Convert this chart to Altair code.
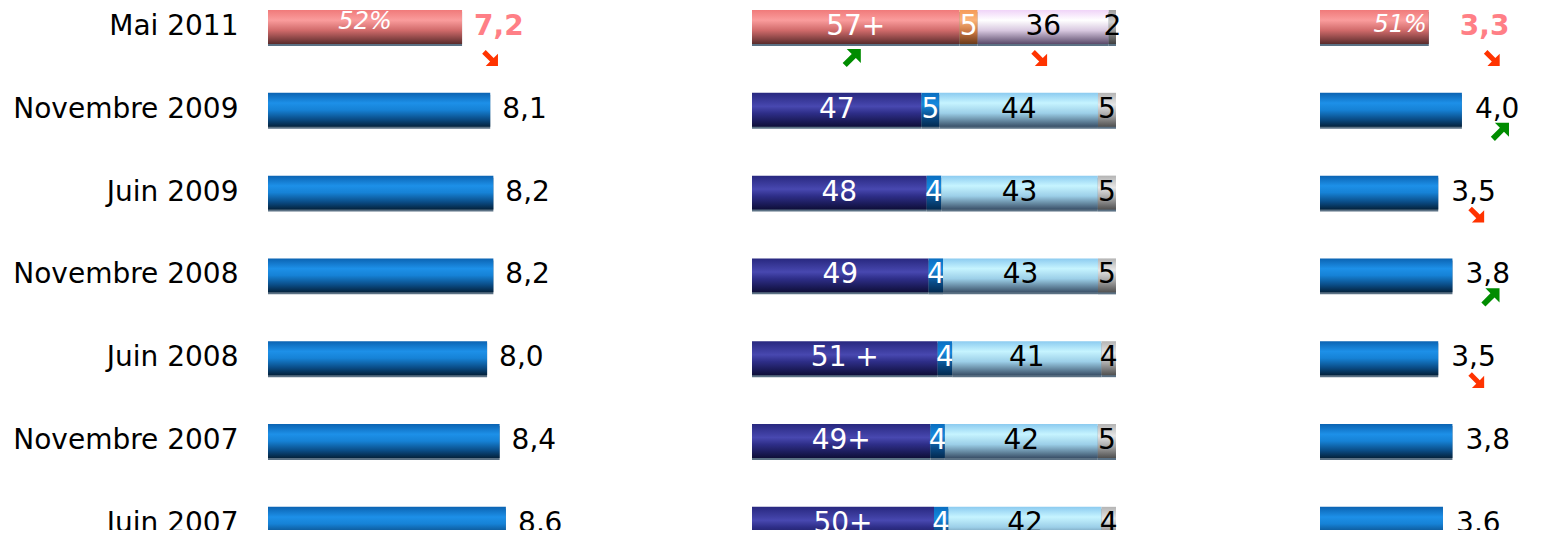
import altair as alt
import pandas as pd

# ---------------- data ----------------
periods = ["Mai 2011", "Novembre 2009", "Juin 2009", "Novembre 2008",
           "Juin 2008", "Novembre 2007", "Juin 2007"]
highlight = "Mai 2011"

# panel 1 : mean score (0-11)
notes = [7.2, 8.1, 8.2, 8.2, 8.0, 8.4, 8.6]
notes_trend = ["down", "", "", "", "", "", ""]
notes_pct = ["52%", "", "", "", "", "", ""]

# panel 2 : stacked shares
seg_oui = [57, 47, 48, 49, 51, 49, 50]
seg_oui_labels = ["57+", "47", "48", "49", "51 +", "49+", "50+"]
seg_plutot = [5, 5, 4, 4, 4, 4, 4]
seg_non = [36, 44, 43, 43, 41, 42, 42]
seg_nsp = [2, 5, 5, 5, 4, 5, 4]
seg_oui_trend = ["up", "", "", "", "", "", ""]
seg_non_trend = ["down", "", "", "", "", "", ""]

# panel 3 : total oui
total_oui = [3.3, 4.0, 3.5, 3.8, 3.5, 3.8, 3.6]
total_trend = ["down", "up", "down", "up", "down", "", ""]
total_pct = ["51%", "", "", "", "", "", ""]


def fmt(v):
    return f"{v:.1f}".replace(".", ",")


df1 = pd.DataFrame({"period": periods, "value": notes, "trend": notes_trend,
                    "pct": notes_pct, "label": [fmt(v) for v in notes]})
df3 = pd.DataFrame({"period": periods, "value": total_oui, "trend": total_trend,
                    "pct": total_pct, "label": [fmt(v) for v in total_oui]})

rows = []
for i, p in enumerate(periods):
    segs = [
        (seg_oui[i], seg_oui_labels[i], seg_oui_trend[i]),
        (seg_plutot[i], str(seg_plutot[i]), ""),
        (seg_non[i], str(seg_non[i]), seg_non_trend[i]),
        (seg_nsp[i], str(seg_nsp[i]), ""),
    ]
    for k, (v, lab, tr) in enumerate(segs):
        rows.append({"period": p, "seg": k, "value": v, "label": lab, "trend": tr})
df2 = pd.DataFrame(rows)

# ---------------- styles ----------------
FONT = "DejaVu Sans"
FS = 28


def grad(stops):
    return alt.Gradient(gradient="linear", x1=0, x2=0, y1=0, y2=1,
                        stops=[alt.GradientStop(offset=o, color=c) for o, c in stops])


BLUE = grad([(0, "#0b63b2"), (0.3, "#1d90e8"), (0.5, "#1682d6"), (0.78, "#0a4c86"), (1, "#04223c")])
NAVY = grad([(0, "#28287f"), (0.4, "#4848b0"), (0.6, "#2e2e88"), (1, "#0e0e38")])
MIDBLUE = grad([(0, "#0a6ec0"), (0.35, "#1689de"), (0.7, "#0a4c88"), (1, "#032a50")])
LIGHT = grad([(0, "#8ccbf0"), (0.3, "#c6f4ff"), (0.6, "#9ccfe8"), (1, "#3a5068")])
GRAY = grad([(0, "#b4b4b4"), (0.35, "#e6e6e6"), (0.65, "#a8a8a8"), (1, "#505050")])
PINK = grad([(0, "#f07a7a"), (0.3, "#fa9c9c"), (0.6, "#d06a6a"), (1, "#5a2c2c")])
ORANGE = grad([(0, "#f59a58"), (0.3, "#fbb47a"), (0.65, "#c87440"), (1, "#6a3a1a")])
LAVENDER = grad([(0, "#f0d4f8"), (0.3, "#ffffff"), (0.6, "#d8c8e0"), (1, "#5a4a6a")])
DGRAY = grad([(0, "#a0a0a0"), (0.35, "#d0d0d0"), (1, "#404040")])

SEG_COLORS = [NAVY, MIDBLUE, LIGHT, GRAY]
SEG_COLORS_HL = [PINK, ORANGE, LAVENDER, DGRAY]
SEG_TEXT = ["white", "white", "black", "black"]

SHADOW = "#5b7184"
HL_TEXT = "#ff7f86"
RED = "#ff3300"
GREEN = "#008c00"

DOWN_PATH = "M -1 -0.55 L -0.55 -1 L 0.45 0 L 1 -0.55 L 1 1 L -0.55 1 L 0 0.45 Z"
UP_PATH = "M -1 0.55 L -0.55 1 L 0.45 0 L 1 0.55 L 1 -1 L -0.55 -1 L 0 -0.45 Z"

# ---------------- scales ----------------
ys = alt.Scale(domain=periods, range=[-22.4, 557.2], paddingInner=0.59, paddingOuter=0.295)
Y = alt.Y("period:N", scale=ys, title=None,
          axis=alt.Axis(ticks=False, domain=False, labelFontSize=FS, labelFont=FONT,
                        labelColor="black", labelPadding=22, labelOffset=0, labelLimit=500,
                        grid=False))

xs1 = alt.Scale(domain=[1, 11], range=[8, 321], nice=False, zero=False)
xs2 = alt.Scale(domain=[0, 1], range=[492, 856], nice=False, zero=False)
xs3 = alt.Scale(domain=[1, 5], range=[1060, 1249.2], nice=False, zero=False)

is_hl = alt.datum.period == highlight
not_hl = alt.datum.period != highlight


def arrow(base, xenc, direction, xoff, yoff):
    color = RED if direction == "down" else GREEN
    shape = DOWN_PATH if direction == "down" else UP_PATH
    size = 250 if direction == "down" else 330
    return base.transform_filter(alt.datum.trend == direction).mark_point(
        shape=shape, filled=True, size=size, color=color, opacity=1,
        xOffset=xoff, yOffset=yoff, strokeWidth=0
    ).encode(x=xenc, y=Y)


layers = []

# ---------- panel 1 & 3 (single bars) ----------
for df, xs, lab_dx, hl_dx, arr_off, arr_hl_off, pct_mode in [
    (df1, xs1, 12, 12, 42, 28, "center"),
    (df3, xs3, 13, 31, 38, 63, "right"),
]:
    base = alt.Chart(df).transform_calculate(lo="1", mid="(1 + datum.value) / 2")
    xlo = alt.X("lo:Q", scale=xs, axis=None)
    xv = alt.X("value:Q", scale=xs, axis=None)
    layers.append(base.mark_bar(color=SHADOW, yOffset=2).encode(x=xlo, x2="value:Q", y=Y))
    layers.append(base.transform_filter(not_hl).mark_bar(color=BLUE).encode(x=xlo, x2="value:Q", y=Y))
    layers.append(base.transform_filter(is_hl).mark_bar(color=PINK).encode(x=xlo, x2="value:Q", y=Y))
    layers.append(base.transform_filter(not_hl).mark_text(
        align="left", baseline="middle", dx=lab_dx, fontSize=FS, font=FONT, color="black"
    ).encode(x=xv, y=Y, text="label:N"))
    layers.append(base.transform_filter(is_hl).mark_text(
        align="left", baseline="middle", dx=hl_dx, fontSize=FS, font=FONT, fontWeight="bold",
        color=HL_TEXT
    ).encode(x=xv, y=Y, text="label:N"))
    if pct_mode == "center":
        layers.append(base.transform_filter(is_hl).mark_text(
            align="center", baseline="middle", dy=-5, fontSize=24, font=FONT,
            fontStyle="italic", color="white"
        ).encode(x=alt.X("mid:Q", scale=xs, axis=None), y=Y, text="pct:N"))
    else:
        layers.append(base.transform_filter(is_hl).mark_text(
            align="right", baseline="middle", dx=-2, dy=-2, fontSize=24, font=FONT,
            fontStyle="italic", color="white"
        ).encode(x=xv, y=Y, text="pct:N"))
    hl_base = base.transform_filter(is_hl)
    rest_base = base.transform_filter(not_hl)
    for d in ["down", "up"]:
        layers.append(arrow(hl_base, xv, d, arr_hl_off, 31))
        layers.append(arrow(rest_base, xv, d, arr_off, 22))

# ---------- panel 2 (stacked) ----------
base2 = alt.Chart(df2).transform_stack(
    stack="value", groupby=["period"], as_=["s0", "s1"], offset="normalize",
    sort=[alt.SortField("seg", order="ascending")]
).transform_calculate(mid="(datum.s0 + datum.s1) / 2")
x0 = alt.X("s0:Q", scale=xs2, axis=None)
xm = alt.X("mid:Q", scale=xs2, axis=None)

layers.append(base2.mark_bar(color=SHADOW, yOffset=2).encode(x=x0, x2="s1:Q", y=Y))
for k in range(4):
    segb = base2.transform_filter(alt.datum.seg == k)
    layers.append(segb.transform_filter(not_hl).mark_bar(color=SEG_COLORS[k]).encode(x=x0, x2="s1:Q", y=Y))
    layers.append(segb.transform_filter(is_hl).mark_bar(color=SEG_COLORS_HL[k]).encode(x=x0, x2="s1:Q", y=Y))
    layers.append(segb.mark_text(
        align="center", baseline="middle", fontSize=FS, font=FONT, color=SEG_TEXT[k]
    ).encode(x=xm, y=Y, text="label:N"))
for d in ["down", "up"]:
    layers.append(arrow(base2, xm, d, -4, 31))

chart = alt.layer(*layers).resolve_scale(x="independent").properties(
    width=1296, height=522,
    autosize=alt.AutoSizeParams(type="none"),
    padding={"left": 252, "top": 0, "right": 0, "bottom": 0},
    background="white",
).configure_view(stroke=None)

chart.save("out.html", embed_options={"renderer": "svg", "actions": False})
